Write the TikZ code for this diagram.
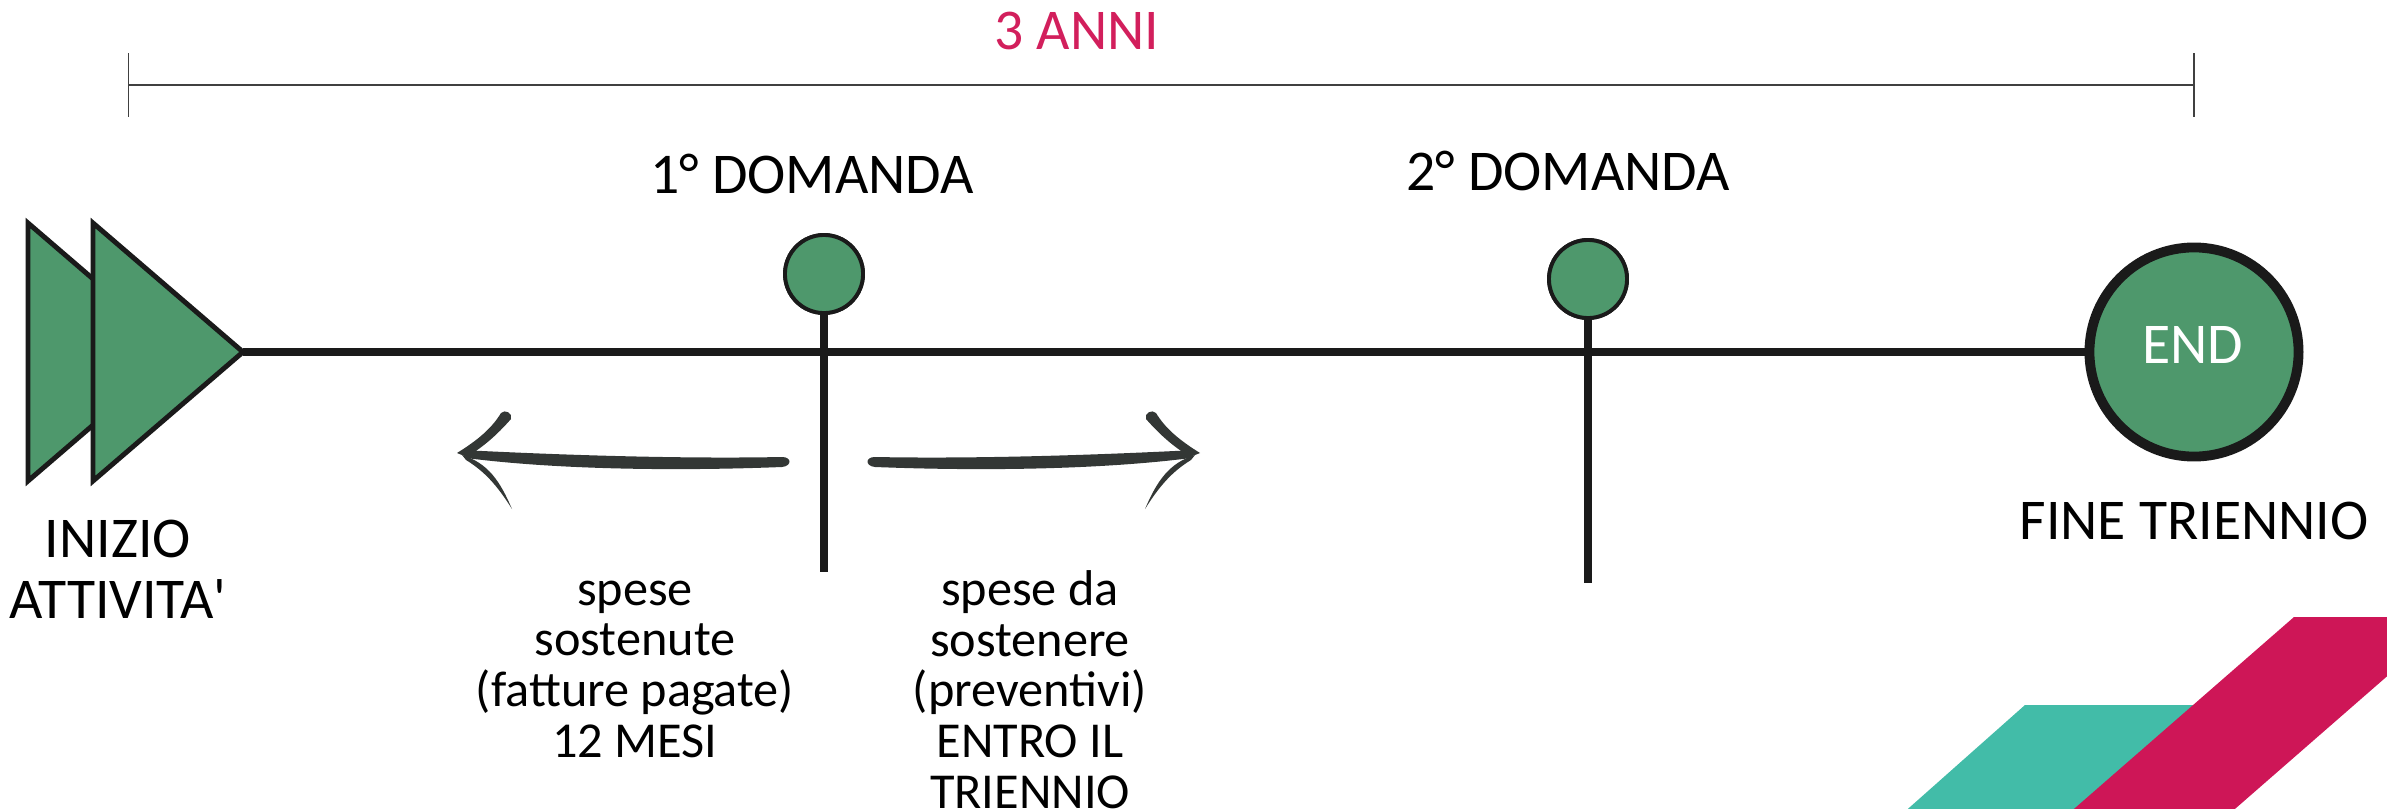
\documentclass[tikz,border=0pt]{standalone}
\usepackage{fontspec}
\setmainfont{Carlito}
\usetikzlibrary{positioning,calc}

\definecolor{nodegreen}{HTML}{4E986C}
\definecolor{lineblack}{HTML}{1A1A1A}
\definecolor{pengrey}{HTML}{333735}
\definecolor{annipink}{HTML}{D21F5C}
\definecolor{stripepink}{HTML}{CE1657}
\definecolor{stripeteal}{HTML}{42BCA8}

\tikzset{
    bigtext/.style={font=\fontsize{16.4}{17}\selectfont, inner sep=0pt},
    smalltext/.style={font=\fontsize{14.3}{14.4}\selectfont, align=center, inner sep=0pt},
    dot/.style={circle, draw=lineblack, fill=nodegreen, line width=1.1pt, minimum size=0.78cm, inner sep=0pt},
    enddot/.style={circle, draw=lineblack, fill=nodegreen, line width=2.8pt, minimum size=2.09cm, inner sep=0pt},
    mainline/.style={draw=lineblack, line width=2.3pt},
    stem/.style={draw=lineblack, line width=2pt},
    bracket/.style={draw=black!75, line width=0.4pt},
    startflag/.style={fill=nodegreen, draw=lineblack, line width=1.4pt, line join=miter},
    brush/.style={fill=pengrey, draw=none}
}

\begin{document}
\begin{tikzpicture}[x=0.01cm, y=-0.01cm]
    \useasboundingbox (0,0) rectangle (2387,809);

    % Span of three years
    \coordinate (brL) at (128.5,85);
    \coordinate (brR) at (2194,85);
    \draw[bracket] (brL) -- (brR);
    \draw[bracket] ($(brL)+(0,-32)$) -- ($(brL)+(0,32)$);
    \draw[bracket] ($(brR)+(0,-32)$) -- ($(brR)+(0,32)$);
    \node[bigtext, text=annipink, anchor=base] (anni) at (1077,50) {3 ANNI};

    % Timeline
    \coordinate (start) at (243,352);
    \node[enddot] (fine) at (2194,352) {};
    \draw[mainline] (start) -- (fine.west);
    \node[bigtext, text=white, anchor=base] (endlbl) at (2193,363) {END};

    % Requests
    \node[dot] (dom1) at (824,274) {};
    \node[dot] (dom2) at (1588,279) {};
    \coordinate (foot1) at (824,572);
    \coordinate (foot2) at (1588,583);
    \draw[stem] (dom1.south) -- (foot1);
    \draw[stem] (dom2.south) -- (foot2);
    \node[dot] at (dom1) {};
    \node[dot] at (dom2) {};
    \node[bigtext, anchor=base] (lbl1) at (812,193) {1° DOMANDA};
    \node[bigtext, anchor=base] (lbl2) at (1568,190) {2° DOMANDA};

    % Start flags
    \draw[startflag] (28,223) -- (178,352) -- (28,481) -- cycle;
    \draw[startflag] (93,223) -- (243,352) -- (93,481) -- cycle;
    \node[bigtext, align=center, font=\fontsize{16.4}{17.1}\selectfont, anchor=base] (inizio) at (118,618) {INIZIO\\ATTIVITA\textquotesingle};
    \node[bigtext, anchor=base] (finelbl) at (2194,539) {FINE TRIENNIO};

    % Expenses
    \node[smalltext, anchor=base] (prima) at (635,757) {spese\\sostenute\\(fatture pagate)\\12 MESI};
    \node[smalltext, anchor=base] (dopo) at (1030,808) {spese da\\sostenere\\(preventivi)\\ENTRO IL\\TRIENNIO};

    % Hand drawn arrows
    \foreach \flip/\off in {1/0, -1/1657} {
        \begin{scope}[xshift=\off*0.01cm, xscale=\flip]
            \path[brush] (462,450) .. controls (560,455) and (680,459) .. (782,457)
                .. controls (792,457) and (792,466) .. (782,467)
                .. controls (680,471) and (560,470) .. (466,458) -- cycle;
            \path[brush] (457,453) .. controls (478,440) and (492,428) .. (501,413)
                .. controls (505,409) and (513,413) .. (511,419)
                .. controls (496,436) and (484,446) .. (467,457) -- cycle;
            \path[brush] (462,455) .. controls (488,463) and (500,481) .. (512,509)
                .. controls (497,485) and (484,471) .. (466,460) -- cycle;
        \end{scope}
    }

    % Corner stripes
    \begin{scope}
        \clip (0,0) rectangle (2387,809);
        \fill[stripeteal] (2025,705) -- (2250,705) -- (2130,815) -- (1901,815) -- cycle;
        \fill[stripepink] (2294,617) -- (2455,617) -- (2228,815) -- (2067,815) -- cycle;
    \end{scope}
\end{tikzpicture}
\end{document}
